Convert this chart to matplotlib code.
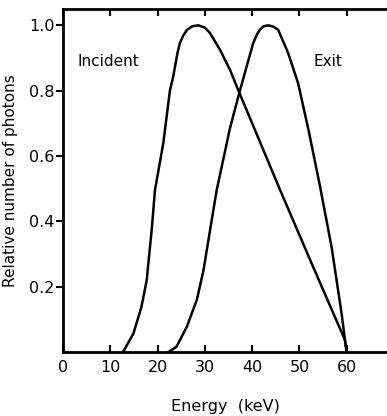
import matplotlib.pyplot as plt
import matplotlib

matplotlib.rcParams['font.family'] = 'DejaVu Sans'
matplotlib.rcParams['font.size'] = 11

# incident spectrum (energy keV, relative number)
inc_e = [12.7, 14.9, 16.6, 17.7, 18.75, 19.45, 21.2, 22.6, 23.3, 24.2, 24.7, 25.4, 26.2, 27.3, 28.6, 30.0, 31.1,
         33.2, 35.3, 37.1, 45.9, 52.9, 59.6, 60.0]
inc_n = [0.0, 0.057, 0.139, 0.22, 0.374, 0.496, 0.639, 0.80, 0.843, 0.915, 0.945, 0.968, 0.986, 0.997, 1.0, 0.993, 0.976,
         0.925, 0.864, 0.80, 0.496, 0.26, 0.037, 0.0]

# exit spectrum
exit_e = [22.3, 24.0, 26.2, 28.3, 29.7, 31.1, 32.5, 35.3, 37.4, 40.2, 41.0, 41.6, 42.4, 43.4, 44.5, 45.5,
          47.6, 49.7, 51.9, 54.3, 56.8, 58.9, 59.8, 60.0]
exit_n = [0.0, 0.016, 0.078, 0.16, 0.25, 0.374, 0.496, 0.685, 0.80, 0.945, 0.972, 0.986, 0.997, 1.0, 0.996, 0.986,
          0.915, 0.823, 0.68, 0.51, 0.32, 0.118, 0.016, 0.0]

xticks = [0, 10, 20, 30, 40, 50, 60]
yticks = [0.2, 0.4, 0.6, 0.8, 1.0]

fig = plt.figure(figsize=(3.87, 4.16), dpi=100)
ax = fig.add_axes([63 / 387, 64 / 416, 1 - 63 / 387, (352 - 9) / 416])

ax.plot(inc_e, inc_n, color='black', lw=1.8, solid_joinstyle='round')
ax.plot(exit_e, exit_n, color='black', lw=1.8, solid_joinstyle='round')

ax.set_xlim(0, 68.5)
ax.set_ylim(0, 1.05)
ax.set_xticks(xticks)
ax.set_yticks(yticks)
ax.set_yticklabels(['0.2', '0.4', '0.6', '0.8', '1.0'])

for s in ['left', 'bottom', 'top']:
    ax.spines[s].set_linewidth(2)
ax.spines['right'].set_visible(False)

ax.tick_params(axis='x', direction='in', top=True, length=5, width=1.5, labelsize=11.5, pad=6)
ax.tick_params(axis='y', direction='out', length=5, width=1.5, labelsize=11.5, pad=1)

ax.text(3, 0.89, 'Incident', fontsize=11, ha='left', va='center')
ax.text(53, 0.89, 'Exit', fontsize=11, ha='left', va='center')

ax.set_ylabel('Relative number of photons', fontsize=11, labelpad=8)
ax.set_xlabel('Energy  (keV)', fontsize=11.5, labelpad=17)

plt.savefig('out.png', dpi=100)
